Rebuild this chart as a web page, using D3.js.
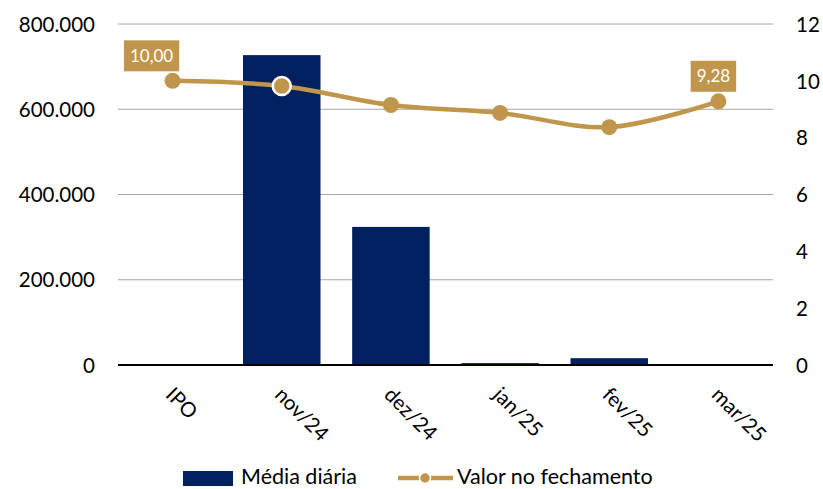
<!DOCTYPE html>
<html>
<head>
<meta charset="utf-8">
<script src="https://cdnjs.cloudflare.com/ajax/libs/d3/7.8.5/d3.min.js"></script>
<style>
  body { margin: 0; background: #fff; }
  text { font-family: Lato, "Noto Sans", sans-serif; fill: #000; }
</style>
</head>
<body>
<div id="chart"></div>
<script>
var categories = ["IPO", "nov/24", "dez/24", "jan/25", "fev/25", "mar/25"];
var mediaDiaria = [0, 727000, 324000, 4500, 16000, 2000];
var valorFechamento = [10.00, 9.82, 9.15, 8.87, 8.37, 9.28];
var leftTicks = [0, 200000, 400000, 600000, 800000];
var rightTicks = [0, 2, 4, 6, 8, 10, 12];
var labelled = [0, 5];

var svgWidth = 823;
var svgHeight = 489;
var margin = { top: 24, right: 50, bottom: 124, left: 118 };
var width = 773 - margin.left;
var height = 365 - margin.top;

var navy = "#002060";
var gold = "#C0964C";

var svg = d3.select("#chart").append("svg")
    .attr("width", svgWidth)
    .attr("height", svgHeight);

var chartGroup = svg.append("g")
    .attr("transform", `translate(${margin.left}, ${margin.top})`);

var x = d3.scaleBand().domain(categories).range([0, width]).paddingInner(0.29).paddingOuter(0.145);
var xPoint = d => x(d) + x.bandwidth() / 2;
var yLeft = d3.scaleLinear().domain([0, 800000]).range([height, 0]);
var yRight = d3.scaleLinear().domain([0, 12]).range([height, 0]);

var fmt = d3.formatLocale({ decimal: ",", thousands: ".", grouping: [3], currency: ["R$", ""] });
var leftFmt = fmt.format(",d");
var valFmt = fmt.format(".2f");

// gridlines
chartGroup.append("g")
    .selectAll("line")
    .data(leftTicks.filter(d => d > 0))
    .enter()
    .append("line")
    .attr("x1", 0)
    .attr("x2", width)
    .attr("y1", d => yLeft(d))
    .attr("y2", d => yLeft(d))
    .attr("stroke", "#a6a6a6")
    .attr("stroke-width", 1);

// left axis
var leftAxis = d3.axisLeft(yLeft).tickValues(leftTicks).tickFormat(leftFmt).tickSize(0).tickPadding(23);
var gl = chartGroup.append("g").call(leftAxis);
gl.select(".domain").remove();
gl.selectAll("text").style("font-size", "20.5px").attr("dy", "0.35em");

// right axis
var rightAxis = d3.axisRight(yRight).tickValues(rightTicks).tickSize(0).tickPadding(23);
var gr = chartGroup.append("g").attr("transform", `translate(${width}, 0)`).call(rightAxis);
gr.select(".domain").remove();
gr.selectAll("text").style("font-size", "20.5px").attr("dy", "0.35em");

// bars
chartGroup.selectAll("rect.bar")
    .data(mediaDiaria)
    .enter()
    .append("rect")
    .attr("class", "bar")
    .attr("x", (d, i) => x(categories[i]))
    .attr("y", d => yLeft(d))
    .attr("width", x.bandwidth())
    .attr("height", d => height - yLeft(d))
    .attr("fill", navy);

// baseline
chartGroup.append("line")
    .attr("x1", 0)
    .attr("x2", width)
    .attr("y1", height)
    .attr("y2", height)
    .attr("stroke", "#000")
    .attr("stroke-width", 2);

// x labels
chartGroup.append("g")
    .selectAll("text")
    .data(categories)
    .enter()
    .append("text")
    .attr("transform", d => `translate(${xPoint(d) - 8}, ${height + 31}) rotate(45)`)
    .style("font-size", "20.5px")
    .text(d => d);

// line
var line = d3.line()
    .x((d, i) => xPoint(categories[i]))
    .y(d => yRight(d))
    .curve(d3.curveCatmullRom.alpha(0.5));

chartGroup.append("path")
    .datum(valorFechamento)
    .attr("d", line)
    .attr("fill", "none")
    .attr("stroke", gold)
    .attr("stroke-width", 4.5);

chartGroup.selectAll("circle.pt")
    .data(valorFechamento)
    .enter()
    .append("circle")
    .attr("class", "pt")
    .attr("cx", (d, i) => xPoint(categories[i]))
    .attr("cy", d => yRight(d))
    .attr("r", (d, i) => i === 1 ? 9 : 8)
    .attr("fill", gold)
    .attr("stroke", (d, i) => i === 1 ? "#fff" : "none")
    .attr("stroke-width", 2.5);

// data labels
var labelGroup = chartGroup.selectAll("g.lbl")
    .data(labelled)
    .enter()
    .append("g")
    .attr("class", "lbl")
    .attr("transform", i => `translate(${xPoint(categories[i]) - (i === 0 ? 21 : 5)}, ${yRight(valorFechamento[i]) - 25})`);

labelGroup.each(function (i) {
    var g = d3.select(this);
    var t = g.append("text")
        .attr("text-anchor", "middle")
        .attr("dy", "0.35em")
        .style("font-size", "17px")
        .style("fill", "#fff")
        .text(valFmt(valorFechamento[i]));
    var w = t.node().getComputedTextLength() + 12;
    g.insert("rect", "text")
        .attr("x", -w / 2)
        .attr("y", -15.5)
        .attr("width", w)
        .attr("height", 31)
        .attr("fill", gold);
});

// legend
var legend = svg.append("g");
legend.append("rect")
    .attr("x", 183).attr("y", 471)
    .attr("width", 50).attr("height", 15)
    .attr("fill", navy);
legend.append("text")
    .attr("x", 241).attr("y", 484)
    .style("font-size", "21.5px")
    .text("Média diária");
legend.append("line")
    .attr("x1", 398).attr("x2", 453)
    .attr("y1", 478).attr("y2", 478)
    .attr("stroke", gold).attr("stroke-width", 4.5);
legend.append("circle")
    .attr("cx", 425).attr("cy", 478).attr("r", 5.5)
    .attr("fill", gold).attr("stroke", "#fff").attr("stroke-width", 1.5);
legend.append("text")
    .attr("x", 457).attr("y", 484)
    .style("font-size", "21.5px")
    .text("Valor no fechamento");
</script>
</body>
</html>
